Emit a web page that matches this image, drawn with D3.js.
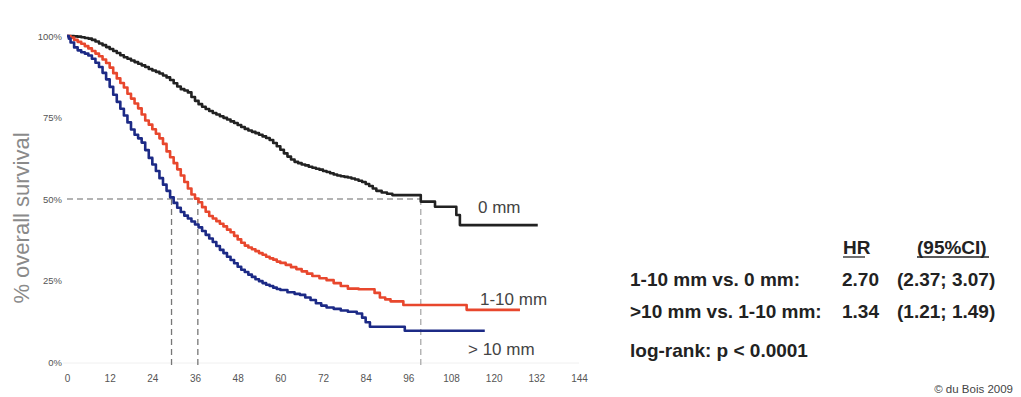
<!DOCTYPE html>
<html>
<head>
<meta charset="utf-8">
<script src="https://cdn.jsdelivr.net/npm/d3@7"></script>
<style>
  html, body { margin: 0; padding: 0; background: #fff; }
  svg { display: block; font-family: "Liberation Sans", Arial, sans-serif; }
</style>
</head>
<body>
<svg id="chart" width="1021" height="397"></svg>
<script>
// Kaplan–Meier overall survival by residual tumour size (months, % surviving)
const monthTicks = [0, 12, 24, 36, 48, 60, 72, 84, 96, 108, 120, 132, 144];
const pctTicks = [0, 25, 50, 75, 100];

const curve0mm = [
  [0,100],[1,100],[2,99.9],[3,99.8],[4,99.6],[5,99.4],[6,99.2],[7,98.8],[8,98.3],[9,97.7],
  [10,97.2],[11,96.6],[12,96],[13,95.4],[14,94.8],[15,94.1],[16,93.5],[17,93],[18,92.5],
  [19,92],[20,91.5],[21,91],[22,90.5],[23,89.9],[24,89.4],[25,89],[26,88.5],[27,87.9],
  [28,87.3],[29,86.5],[30,85.5],[31,84.5],[32,83.7],[33,83.3],[34,82.7],[35,81.3],[36,80.1],
  [37,79.1],[38,78.3],[39,77.6],[40,77],[41,76.4],[42,75.9],[43,75.4],[44,74.9],[45,74.4],
  [46,73.8],[47,73.3],[48,72.7],[49,72.1],[50,71.5],[51,71],[52,70.6],[53,70.2],[54,69.7],
  [55,69.2],[56,68.7],[57,68.1],[58,67.2],[59,66.2],[60,65.1],[61,64],[62,63],[63,62.1],
  [64,61.4],[65,61],[66,60.6],[67,60.3],[68,59.9],[69,59.6],[70,59.3],[71,59],[72,58.6],
  [73,58.3],[74,57.9],[75,57.5],[76,57.2],[77,57],[78,56.8],[79,56.6],[80,56.3],[81,56],
  [82,55.6],[83,55.2],[84,54.6],[85,54],[86,53.2],[87,52.5],[88.5,52],[90,51.6],[91.5,51.2],
  [99.5,49.2],[103.5,47.6],[109.5,45.1],[110.5,42],[132.4,42]
];
const curve1to10mm = [
  [0,100],[1,99.5],[2,98.8],[3,98.2],[4,97.6],[5,96.9],[6,96.2],[7,95.4],[8,94.6],[9,93.8],
  [10,92.8],[11,91.7],[12,90.3],[13,88.6],[14,87],[15,85.6],[16,84.2],[17,82.3],[18,80.8],
  [19,79.3],[20,77.8],[21,75.9],[22,74.1],[23,72.8],[24,71.4],[25,70],[26,68.6],[27,66.9],
  [28,64.6],[29,62.8],[30,61],[31,59.1],[32,57.2],[33,55.2],[34,53.2],[35,51.4],[36,50.1],
  [37,49],[38,47.5],[39,46.1],[40,44.8],[41,44],[42,43.2],[43,42.4],[44,41.6],[45,40.6],
  [46,39.8],[47,38.7],[48,37.6],[49,36.6],[50,35.7],[51,35.1],[52,34.6],[53,34],[54,33.4],
  [55,32.9],[56,32.3],[57,31.8],[58,31.4],[59,30.8],[60,30.4],[61.5,29.8],[63,29.1],
  [64.5,28.5],[66,27.8],[67.5,27.1],[69,26.4],[71,25.7],[73,25.1],[75,24.2],[77,23.3],
  [79,22.5],[82,22.3],[86.5,21.2],[88,19.8],[89.5,19.2],[91,18.6],[94.6,17.5],
  [112.4,16],[127.4,16]
];
const curveOver10mm = [
  [0,100],[0.5,99.2],[1,98],[2,96.5],[3,95.6],[4,95],[5,94.6],[6,94],[7,93],[8,91.8],
  [9,90.5],[10,88.7],[11,86.7],[12,84.4],[13,82],[14,79.8],[15,77.7],[16,75.6],[17,73.5],
  [18,71.3],[19,69.7],[20,68.6],[21,67.3],[22,65],[23,62.6],[24,60.6],[25,58.6],[26,56.4],
  [27,54.4],[28,52.5],[29,50.5],[30,48.8],[31,47.3],[32,46],[33,44.9],[34,44],[35,43.1],
  [36,42.2],[37,41.3],[38,40.2],[39,39],[40,37.9],[41,36.8],[42,35.6],[43,34.4],[44,33.4],
  [45,32.3],[46,31.3],[47,30.3],[48,29.2],[49,28.3],[50,27.6],[51,26.8],[52,26.1],[53,25.4],
  [54,24.8],[55,24.2],[56,23.7],[57,23.3],[58,22.8],[59,22.4],[60,22.1],[62,21.4],[64,20.9],
  [65.5,20.6],[67,19.8],[68.5,19],[70,18],[71.5,17.3],[73,16.7],[75,16.3],[77,15.8],
  [79,15.4],[81.5,14.9],[83,13.6],[84,12.2],[85.2,10.8],[95,9.6],[117.5,9.6]
];

const seriesNames = ["0 mm", "1-10 mm", "> 10 mm"];
const seriesColors = ["#222222", "#e8472d", "#1c2a86"];
const medianMonths = [99.5, 36.8, 29.4];   // months where each curve crosses 50%

const tableHeader = ["HR", "(95%CI)"];
const tableRows = [
  ["1-10 mm vs. 0 mm:", "2.70", "(2.37; 3.07)"],
  [">10 mm vs. 1-10 mm:", "1.34", "(1.21; 1.49)"]
];
const logRankText = "log-rank: p < 0.0001";
const creditText = "\u00A9 du Bois 2009";

const svg = d3.select("#chart");
const x = d3.scaleLinear().domain([0, 144]).range([67, 579]);
const y = d3.scaleLinear().domain([0, 100]).range([362, 36]);

// faint baseline at 0%
svg.append("line")
  .attr("x1", x(0) - 4).attr("x2", x(144)).attr("y1", y(0) + 1).attr("y2", y(0) + 1)
  .attr("stroke", "#f0f0f0").attr("stroke-width", 1);

// axes (labels only)
const xAxis = svg.append("g")
  .attr("transform", `translate(0,${y(0) + 13})`)
  .call(d3.axisBottom(x).tickValues(monthTicks).tickSize(0).tickPadding(0));
xAxis.select(".domain").remove();
xAxis.selectAll("text")
  .attr("font-size", 10).attr("fill", "#555").attr("font-family", "Liberation Sans, Arial, sans-serif");

const yAxis = svg.append("g")
  .attr("transform", `translate(${x(0) - 5},0)`)
  .call(d3.axisLeft(y).tickValues(pctTicks).tickFormat(d => d + "%").tickSize(0).tickPadding(0));
yAxis.select(".domain").remove();
yAxis.selectAll("text")
  .attr("font-size", 9.5).attr("fill", "#555").attr("font-family", "Liberation Sans, Arial, sans-serif");

// y-axis title
svg.append("text")
  .attr("transform", `translate(29,218) rotate(-90)`)
  .attr("text-anchor", "middle")
  .attr("font-size", 22).attr("fill", "#8a8a8a")
  .text("% overall survival");

// median reference lines
const dash = "6,4";
svg.append("line")
  .attr("x1", x(0)).attr("x2", x(d3.max(medianMonths)))
  .attr("y1", y(50)).attr("y2", y(50))
  .attr("stroke", "#9a9a9a").attr("stroke-width", 1.3).attr("stroke-dasharray", dash);
svg.selectAll(".median").data(medianMonths).enter().append("line")
  .attr("x1", d => x(d)).attr("x2", d => x(d))
  .attr("y1", y(50)).attr("y2", y(0) + 4)
  .attr("stroke", (d, i) => i === 0 ? "#aaaaaa" : "#777777")
  .attr("stroke-width", 1.3).attr("stroke-dasharray", dash);

// survival curves
const line = d3.line().x(d => x(d[0])).y(d => y(d[1])).curve(d3.curveStepAfter);
const curves = [curve0mm, curve1to10mm, curveOver10mm];
svg.selectAll(".km").data(curves).enter().append("path")
  .attr("d", line)
  .attr("fill", "none")
  .attr("stroke", (d, i) => seriesColors[i])
  .attr("stroke-width", 2.6)
  .attr("stroke-linejoin", "round");

// curve labels
const labelPos = [[478, 213], [480, 305], [468, 355]];
svg.selectAll(".lbl").data(seriesNames).enter().append("text")
  .attr("x", (d, i) => labelPos[i][0]).attr("y", (d, i) => labelPos[i][1])
  .attr("font-size", 17).attr("fill", "#444")
  .text(d => d);

// hazard ratio table
const tbl = svg.append("g").attr("font-size", 19).attr("font-weight", "bold").attr("fill", "#222");
tbl.append("text").attr("x", 843).attr("y", 254).text(tableHeader[0]);
tbl.append("text").attr("x", 917).attr("y", 254).text(tableHeader[1]);
tbl.append("line").attr("x1", 843).attr("x2", 865).attr("y1", 257).attr("y2", 257)
  .attr("stroke", "#222").attr("stroke-width", 1.3);
tbl.append("line").attr("x1", 917).attr("x2", 989).attr("y1", 257).attr("y2", 257)
  .attr("stroke", "#222").attr("stroke-width", 1.3);
tableRows.forEach((r, i) => {
  const yy = 286 + i * 32;
  tbl.append("text").attr("x", 630).attr("y", yy).text(r[0]);
  tbl.append("text").attr("x", 842).attr("y", yy).text(r[1]);
  tbl.append("text").attr("x", 897).attr("y", yy).text(r[2]);
});
tbl.append("text").attr("x", 630).attr("y", 357).text(logRankText);

svg.append("text")
  .attr("x", 1013).attr("y", 393).attr("text-anchor", "end")
  .attr("font-size", 11.5).attr("fill", "#444")
  .text(creditText);
</script>
</body>
</html>
